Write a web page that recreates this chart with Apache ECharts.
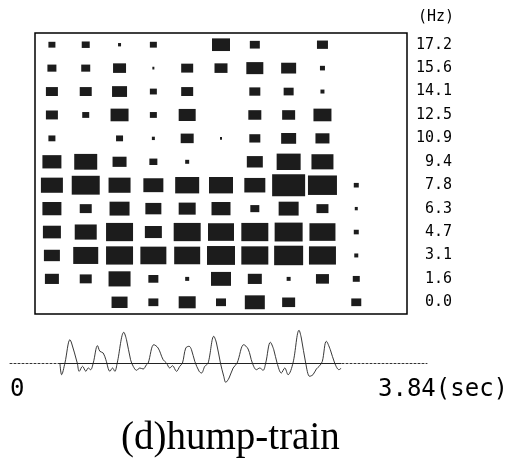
<!DOCTYPE html>
<html><head><meta charset="utf-8">
<script src="https://cdn.jsdelivr.net/npm/echarts@6/dist/echarts.min.js"></script>
<style>html,body{margin:0;padding:0;background:#fff}#c{width:518px;height:459px}</style>
</head><body><div id="c"></div>
<script>
// time frames (columns) of the spectrogram
const frames = ['1','2','3','4','5','6','7','8','9','10','11'];
// frequency rows, bottom to top (Hz)
const freqLabels = ['0.0','1.6','3.1','4.7','6.3','7.8','9.4','10.9','12.5','14.1','15.6','17.2'];
// power per frame for each frequency row (arbitrary units)
const power_17_2 = [7, 8, 3, 7, 0, 18, 10, 0, 11, 0, 0];
const power_15_6 = [9, 9, 13, 2, 12, 13, 17, 15, 5, 0, 0];
const power_14_1 = [12, 12, 15, 7, 12, 0, 11, 10, 4, 0, 0];
const power_12_5 = [12, 7, 18, 7, 17, 0, 13, 13, 18, 0, 0];
const power_10_9 = [7, 0, 7, 3, 13, 2, 11, 15, 14, 0, 0];
const power_9_4  = [19, 23, 14, 8, 4, 0, 16, 24, 22, 0, 0];
const power_7_8  = [22, 28, 22, 20, 24, 24, 21, 33, 29, 5, 0];
const power_6_3  = [19, 12, 20, 16, 17, 19, 9, 20, 12, 3, 0];
const power_4_7  = [18, 22, 27, 17, 27, 26, 27, 28, 26, 5, 0];
const power_3_1  = [16, 25, 27, 26, 26, 28, 27, 29, 27, 4, 0];
const power_1_6  = [14, 12, 22, 10, 4, 20, 14, 4, 13, 7, 0];
const power_0_0  = [0, 0, 16, 10, 17, 10, 20, 13, 0, 10, 0];
const powerRows = [power_0_0, power_1_6, power_3_1, power_4_7, power_6_3, power_7_8,
                   power_9_4, power_10_9, power_12_5, power_14_1, power_15_6, power_17_2];

// waveform (time in sec, amplitude arbitrary)
const waveTime = [0.464,0.482,0.517,0.570,0.587,0.647,0.668,0.703,0.738,0.763,0.788,0.816,0.861,0.886,0.921,0.949,0.992,1.020,1.044,1.069,1.139,1.167,1.210,1.238,1.273,1.308,1.343,1.378,1.396,1.456,1.501,1.554,1.589,1.624,1.653,1.695,1.730,1.758,1.793,1.828,1.853,1.888,1.934,1.959,1.994,2.029,2.089,2.117,2.159,2.194,2.215,2.250,2.293,2.335,2.405,2.451,2.496,2.539,2.574,2.609,2.637,2.686,2.722,2.757,2.802,2.838,2.873,2.925,2.989,3.013,3.059,3.101,3.136,3.172,3.207,3.235,3.277,3.319,3.365,3.411,3.435];
const waveAmp = [0,-11.7,0,23.3,20,0,-8.3,-3.3,-8.3,-5,-6.7,0,17.3,11.7,10,3.3,-8.3,-5,-8.3,0,30.7,23.3,3.3,-3.3,-7.3,-5,-6,-1.7,0,18.3,15,3.3,0,-5,-2.7,-8.3,-3.3,0,15,16.7,13.3,1.7,-8.3,-10,-3.3,0,26.7,20,0,-13.3,-19.3,-15,-5,0,18.3,14,0,-6.7,-5,-7.3,0,20.7,13.3,0,-10,-5,-11.7,0,32.7,25,0,-13.3,-11.7,-6,-2.7,1.7,21.7,13.3,0,-6.7,-5];
const timeStartLabel = '0';
const timeEndLabel = '3.84(sec)';
const chartTitle = '(d)hump-train';

const cells = [];
powerRows.forEach((row, fi) => row.forEach((v, ti) => { if (v > 0) cells.push([ti, fi, v]); }));
const wave = waveTime.map((t, i) => [t, waveAmp[i]]);
const mono = 'DejaVu Sans Mono';

const chart = echarts.init(document.getElementById('c'), null, {renderer: 'canvas'});
chart.setOption({
  animation: false,
  backgroundColor: '#fff',
  grid: [
    {left: 35, top: 33, width: 372, height: 281, show: true, borderColor: '#000', borderWidth: 1.5, backgroundColor: 'transparent'},
    {left: 10, right: 91, top: 328, height: 60}
  ],
  xAxis: [
    {gridIndex: 0, type: 'category', data: frames, axisLine: {show: false}, axisTick: {show: false}, axisLabel: {show: false}, splitLine: {show: false}},
    {gridIndex: 1, type: 'value', min: -0.063, max: 4.34, axisLine: {show: true, onZero: true, lineStyle: {color: '#333', width: 1, type: [2, 2]}}, axisTick: {show: false}, axisLabel: {show: false}, splitLine: {show: false}}
  ],
  yAxis: [
    {gridIndex: 0, type: 'category', data: freqLabels, position: 'right',
     name: '(Hz)', nameLocation: 'end', nameGap: 8,
     nameTextStyle: {fontFamily: mono, fontSize: 15, color: '#000', align: 'left', padding: [0, 0, 0, 11]},
     axisLine: {show: false}, axisTick: {show: false}, splitLine: {show: false},
     axisLabel: {margin: 45, align: 'right', fontFamily: mono, fontSize: 15, color: '#000'}},
    {gridIndex: 1, type: 'value', min: -25, max: 35, axisLine: {show: false}, axisTick: {show: false}, axisLabel: {show: false}, splitLine: {show: false}}
  ],
  series: [
    {type: 'scatter', xAxisIndex: 0, yAxisIndex: 0, data: cells, symbol: 'rect',
     symbolSize: v => [v[2], 0.62 * v[2] + 1.5],
     itemStyle: {color: '#1c1c1c', opacity: 1}},
    {type: 'line', xAxisIndex: 1, yAxisIndex: 1, data: wave, showSymbol: false, smooth: 0.35,
     lineStyle: {color: '#222', width: 0.9},
     markLine: {silent: true, symbol: 'none', label: {show: false},
       lineStyle: {type: 'solid', color: '#222', width: 1},
       data: [[{coord: [waveTime[0], 0]}, {coord: [waveTime[waveTime.length - 1], 0]}]]}}
  ],
  graphic: [
    {type: 'text', left: 10, top: 378, style: {text: timeStartLabel, font: '24px "DejaVu Sans Mono"', fill: '#000'}},
    {type: 'text', left: 378, top: 378, style: {text: timeEndLabel, font: '24px "DejaVu Sans Mono"', fill: '#000'}},
    {type: 'text', left: 121, top: 419, style: {text: chartTitle, font: '39px "Liberation Serif"', fill: '#000'}}
  ]
});
</script></body></html>
